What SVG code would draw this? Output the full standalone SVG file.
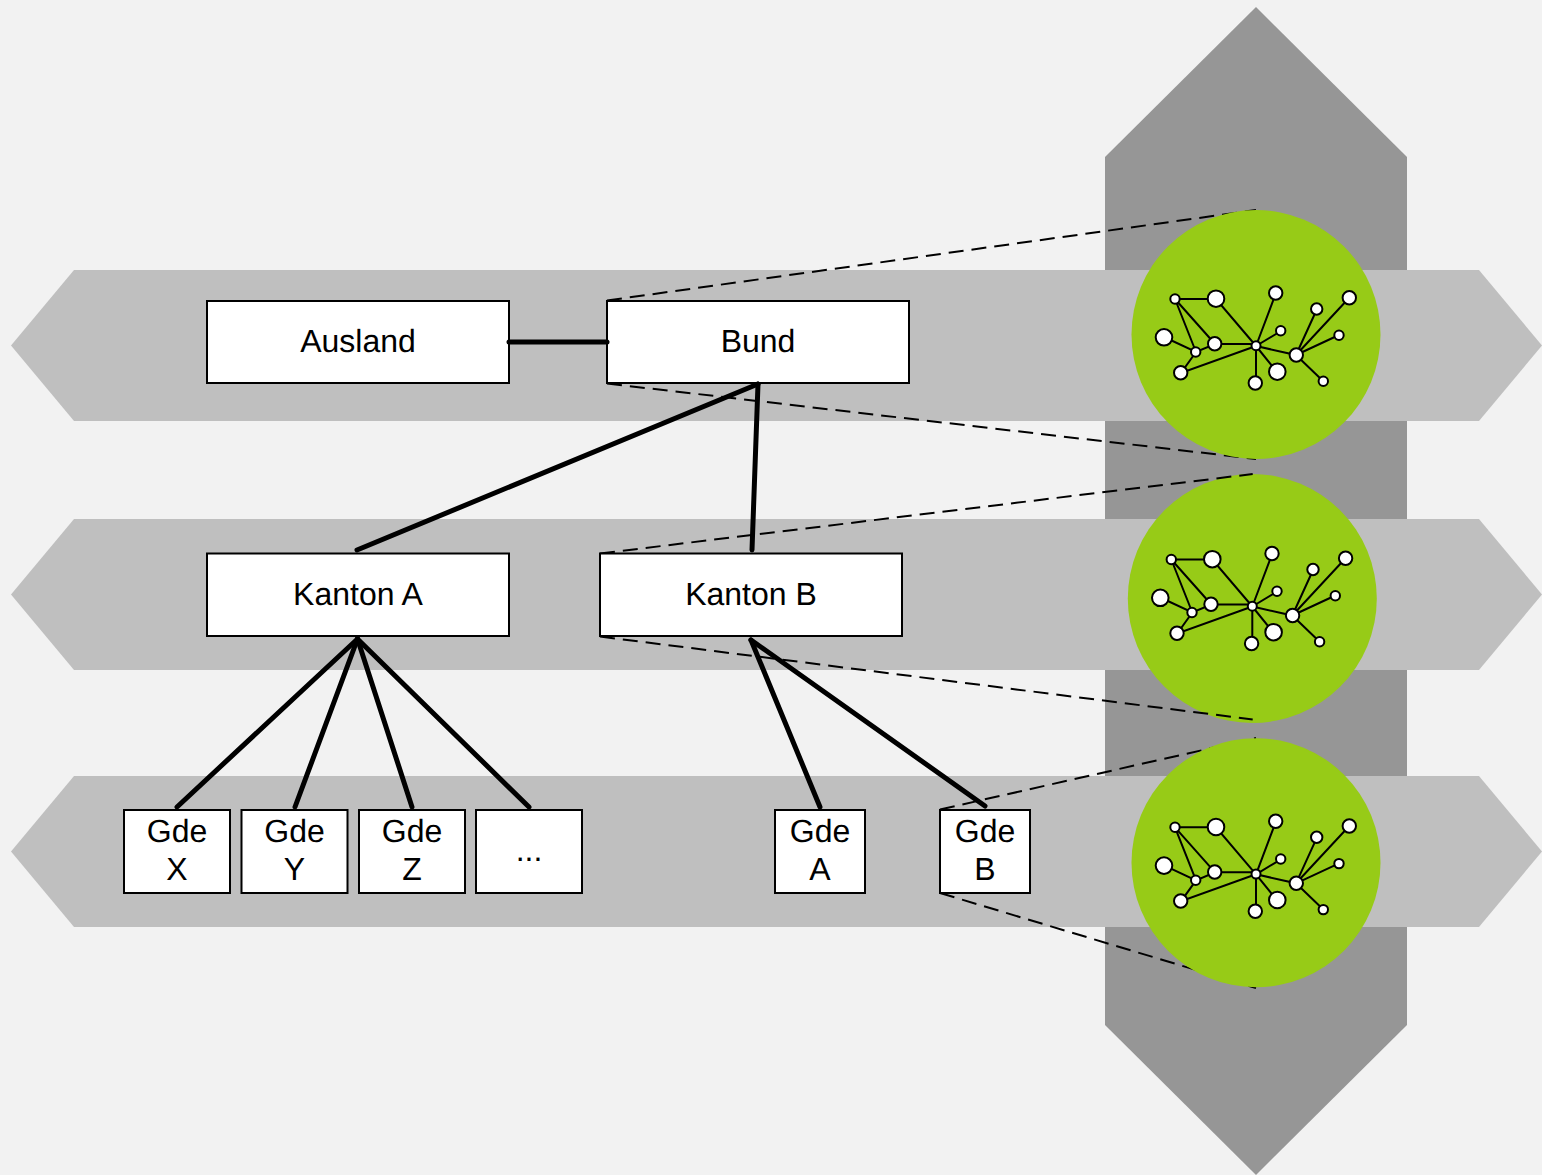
<svg xmlns="http://www.w3.org/2000/svg" width="1542" height="1175" viewBox="0 0 1542 1175">
<style>
.band{fill:#bfbfbf}
.box{fill:#fff;stroke:#000;stroke-width:2}
.t{font-family:"Liberation Sans",Arial,sans-serif;font-size:32px;fill:#000;text-anchor:middle;text-rendering:geometricPrecision}
.dash{fill:none;stroke:#000;stroke-width:2;stroke-dasharray:15 8}
.conn{fill:none;stroke:#000;stroke-width:5;stroke-linecap:round}
.disc{fill:#97cb17}
.nl{fill:none;stroke:#000;stroke-width:2}
.nc{fill:#fff;stroke:#000;stroke-width:2}
</style>
<defs>
<g id="net">
<path class="nl" d="M1175 299H1216L1256 346M1175 299L1196 352M1175 299L1215 344M1164 337L1196 352L1215 344H1256M1196 352L1181 373L1256 346M1256 346L1276 293M1256 346L1281 331M1256 346V383M1256 346L1277 372M1256 346L1296 355L1317 309M1296 355L1349 298M1296 355L1339 335M1296 355L1323 381"/>
<circle class="nc" cx="1256" cy="345.700" r="4.500"/>
<circle class="nc" cx="1175" cy="299" r="4.700"/>
<circle class="nc" cx="1216" cy="298.700" r="8.300"/>
<circle class="nc" cx="1275.700" cy="293" r="6.700"/>
<circle class="nc" cx="1164" cy="337.300" r="8.300"/>
<circle class="nc" cx="1214.700" cy="343.700" r="6.700"/>
<circle class="nc" cx="1195.700" cy="352" r="4.700"/>
<circle class="nc" cx="1180.700" cy="372.700" r="6.700"/>
<circle class="nc" cx="1280.700" cy="330.700" r="4.700"/>
<circle class="nc" cx="1255.300" cy="383" r="6.700"/>
<circle class="nc" cx="1277.300" cy="371.700" r="8.300"/>
<circle class="nc" cx="1296.300" cy="355" r="6.700"/>
<circle class="nc" cx="1316.700" cy="309" r="5.700"/>
<circle class="nc" cx="1349.300" cy="297.700" r="6.700"/>
<circle class="nc" cx="1339" cy="335.300" r="4.700"/>
<circle class="nc" cx="1323.300" cy="381.300" r="4.700"/>
</g>
</defs>
<rect width="1542" height="1175" fill="#f2f2f2"/>
<polygon id="vertical-arrow" fill="#969696" points="1105,157 1256,7 1407,157 1407,1025 1256,1175 1105,1025"/>
<polygon id="band-1" class="band" points="11,345.500 74,270 1479,270 1542,345.500 1479,421 74,421"/>
<polygon id="band-2" class="band" points="11,594.500 74,519 1479,519 1542,594.500 1479,670 74,670"/>
<polygon id="band-3" class="band" points="11,851.500 74,776 1479,776 1542,851.500 1479,927 74,927"/>
<g id="zoom-lines-1-3">
<path class="dash" d="M607 300.500L1256 210M607 383.500L1256 459"/>
<path class="dash" d="M940 809.500L1256 738M940 893L1256 988"/>
</g>
<g id="net-1"><circle class="disc" cx="1256" cy="334.500" r="124.500"/><use href="#net"/></g>
<g id="net-2"><circle class="disc" cx="1252.300" cy="598.500" r="124.500"/><use href="#net" transform="translate(-3.700 260.500)"/></g>
<g id="net-3"><circle class="disc" cx="1256" cy="862.700" r="124.500"/><use href="#net" transform="translate(0 528.300)"/></g>
<g id="zoom-lines-2">
<path class="dash" d="M600 553.500L1252.700 474M600 636.500L1252.700 719.500"/>
</g>
<g id="ausland"><rect class="box" x="207" y="301" width="302" height="82"/><text class="t" x="358" y="352">Ausland</text></g>
<g id="bund"><rect class="box" x="607" y="301" width="302" height="82"/><text class="t" x="758" y="352">Bund</text></g>
<g id="kanton-a"><rect class="box" x="207" y="553.500" width="302" height="82.500"/><text class="t" x="358" y="605">Kanton A</text></g>
<g id="kanton-b"><rect class="box" x="600" y="553.500" width="302" height="82.500"/><text class="t" x="751" y="605">Kanton B</text></g>
<g id="gde-x"><rect class="box" x="124" y="810" width="106" height="83"/><text class="t" x="177" y="842">Gde</text><text class="t" x="177" y="880">X</text></g>
<g id="gde-y"><rect class="box" x="241.500" y="810" width="106" height="83"/><text class="t" x="294.500" y="842">Gde</text><text class="t" x="294.500" y="880">Y</text></g>
<g id="gde-z"><rect class="box" x="359" y="810" width="106" height="83"/><text class="t" x="412" y="842">Gde</text><text class="t" x="412" y="880">Z</text></g>
<g id="gde-more"><rect class="box" x="476" y="810" width="106" height="83"/><text class="t" x="529" y="861">...</text></g>
<g id="gde-a"><rect class="box" x="775" y="810" width="90" height="83"/><text class="t" x="820" y="842">Gde</text><text class="t" x="820" y="880">A</text></g>
<g id="gde-b"><rect class="box" x="940" y="810" width="90" height="83"/><text class="t" x="985" y="842">Gde</text><text class="t" x="985" y="880">B</text></g>
<g id="connectors">
<path class="conn" d="M509 342H607"/>
<path class="conn" d="M758 384L357 550"/>
<path class="conn" d="M758 384L752 550"/>
<path class="conn" d="M357.500 639L177 807"/>
<path class="conn" d="M357.500 639L295 807"/>
<path class="conn" d="M357.500 639L412 807"/>
<path class="conn" d="M357.500 639L529 807"/>
<path class="conn" d="M751 640L820 807"/>
<path class="conn" d="M751 640L985 806"/>
</g>
</svg>
